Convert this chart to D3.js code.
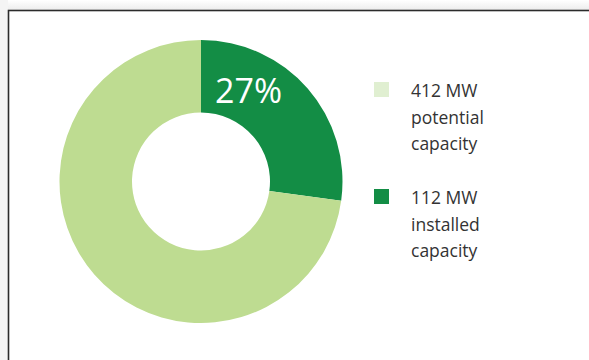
<!DOCTYPE html>
<html><head><meta charset="utf-8">
<script src="https://cdn.jsdelivr.net/npm/d3@7"></script>
<style>html,body{margin:0;padding:0;background:#fff;}svg{display:block;}</style>
</head><body>
<svg id="c" width="589" height="360"></svg>
<script>
const categories = ["installed", "remaining"];
const values = [112, 300];
const legendLabels = [["412 MW", "potential", "capacity"], ["112 MW", "installed", "capacity"]];
const centerLabel = "27%";

const svg = d3.select("#c");
const defs = svg.append("defs");
const g1 = defs.append("linearGradient").attr("id","sh").attr("x1",0).attr("y1",0).attr("x2",0).attr("y2",1);
g1.append("stop").attr("offset","0%").attr("stop-color","#ffffff");
g1.append("stop").attr("offset","100%").attr("stop-color","#ececec");
svg.append("rect").attr("x",0).attr("y",0).attr("width",589).attr("height",10).attr("fill","url(#sh)");
svg.append("rect").attr("x",0).attr("y",0).attr("width",8).attr("height",360).attr("fill","#f4f4f4");
svg.append("rect").attr("x",8.5).attr("y",10.5).attr("width",600).attr("height",400)
  .attr("fill","#fff").attr("stroke","#2b2b2b").attr("stroke-width",1.6);

const cx = 201, cy = 181.5, rOut = 141.5, rIn = 69;
const colors = d3.scaleOrdinal().domain(categories).range(["#138d45", "#bedc91"]);
const pie = d3.pie().sort(null).value(d => d)(values);
const arc = d3.arc().innerRadius(rIn).outerRadius(rOut);
const g = svg.append("g").attr("transform", `translate(${cx},${cy})`);
g.selectAll("path").data(pie).join("path")
  .attr("d", arc).attr("fill", (d,i) => colors(categories[i]));

svg.append("text").attr("x", 248.5).attr("y", 103).attr("text-anchor","middle")
  .attr("font-family","'Open Sans', sans-serif").attr("font-size", 34).attr("font-weight",400)
  .attr("fill","#fff").text(centerLabel);

const swatch = ["#e0efd1", "#138d45"];
const legY = d3.scaleOrdinal().domain([0,1]).range([82, 189]);
legendLabels.forEach((lines, i) => {
  const y0 = legY(i);
  svg.append("rect").attr("x",374).attr("y",y0).attr("width",15).attr("height",15).attr("fill",swatch[i]);
  lines.forEach((t, j) => {
    svg.append("text").attr("x", 411).attr("y", y0 + 15 + j*26.5)
      .attr("font-family","'Open Sans', sans-serif").attr("font-size", 17.5)
      .attr("fill","#333").text(t);
  });
});
</script>
</body></html>
